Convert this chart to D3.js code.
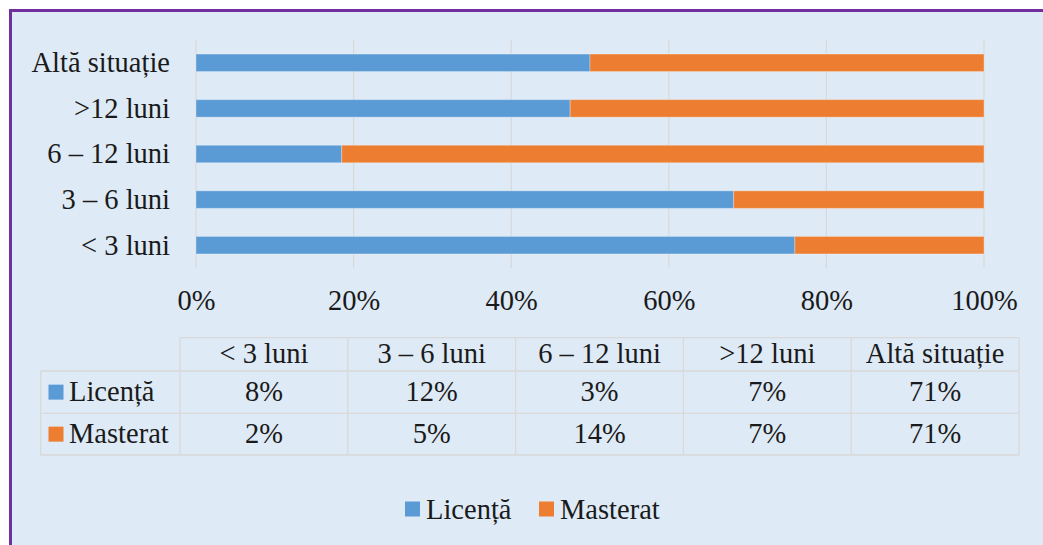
<!DOCTYPE html>
<html>
<head>
<meta charset="utf-8">
<script src="https://cdn.jsdelivr.net/npm/d3@7"></script>
<style>
  html, body { margin: 0; padding: 0; background: #ffffff; }
  svg { display: block; }
  text { font-family: "Liberation Serif", "Times New Roman", Times, serif; fill: #1a1a1a; }
</style>
</head>
<body>
<svg id="chart" width="1043" height="545"></svg>
<script>
// ---- data ----
const categories = ["< 3 luni", "3 – 6 luni", "6 – 12 luni", ">12 luni", "Altă situație"];
const seriesNames = ["Licență", "Masterat"];
const licenta  = [7.6, 11.6, 3.2, 6.6, 71];
const masterat = [2.4, 5.4, 14.1, 7.3, 71];
const tickValues = [0, 0.2, 0.4, 0.6, 0.8, 1];
const colors = ["#5B9BD5", "#ED7D31"];

const FS = "28.5px";
const FF = '"Liberation Serif", "Times New Roman", Times, serif';

const svg = d3.select("#chart");
const W = 1043, H = 545;

// background & frame
svg.append("rect").attr("x", 9).attr("y", 9).attr("width", W - 9).attr("height", H - 9).attr("fill", "#DEEAF6");
svg.append("line").attr("x1", 9).attr("x2", W).attr("y1", 10.5).attr("y2", 10.5).attr("stroke", "#7030A0").attr("stroke-width", 3);
svg.append("line").attr("x1", 10.5).attr("x2", 10.5).attr("y1", 9).attr("y2", H).attr("stroke", "#7030A0").attr("stroke-width", 3);

const plot = { left: 196, right: 984, top: 40, bottom: 268 };
const x = d3.scaleLinear().domain([0, 1]).range([plot.left, plot.right]);
const y = d3.scaleBand().domain(categories).range([plot.bottom, plot.top]).paddingInner(0.616).paddingOuter(0.308);

const rows = categories.map((c, i) => ({ cat: c, vals: [licenta[i], masterat[i]] }));
const stackData = rows.map(r => {
  const tot = d3.sum(r.vals);
  return { cat: r.cat, Licență: r.vals[0] / tot, Masterat: r.vals[1] / tot };
});
const stacked = d3.stack().keys(seriesNames)(stackData);

// gridlines
svg.append("g").selectAll("line").data(tickValues).join("line")
  .attr("x1", d => x(d)).attr("x2", d => x(d))
  .attr("y1", plot.top).attr("y2", plot.bottom)
  .attr("stroke", "#D9D9D9").attr("stroke-width", 1.2);

// bars
svg.append("g").selectAll("g").data(stacked).join("g")
  .attr("fill", (d, i) => colors[i])
  .selectAll("rect").data(d => d).join("rect")
  .attr("x", d => x(d[0]))
  .attr("width", d => x(d[1]) - x(d[0]))
  .attr("y", d => y(d.data.cat))
  .attr("height", y.bandwidth())
  .attr("stroke", "rgba(255,255,255,0.3)").attr("stroke-width", 1);

// category axis labels
const yAxis = d3.axisLeft(y).tickSize(0).tickPadding(26);
const gy = svg.append("g").attr("transform", `translate(${plot.left},0)`).call(yAxis);
gy.select(".domain").remove();
gy.selectAll("text").style("font-size", FS).style("font-family", FF).attr("fill", "#1a1a1a").attr("dy", "0.33em");

// x axis labels
const xAxis = d3.axisBottom(x).tickValues(tickValues).tickFormat(d3.format(".0%")).tickSize(0).tickPadding(0);
const gx = svg.append("g").attr("transform", `translate(0,${plot.bottom})`).call(xAxis);
gx.select(".domain").remove();
gx.selectAll("text").style("font-size", FS).style("font-family", FF).attr("fill", "#1a1a1a").attr("y", 42).attr("dy", 0);

// data table
const tbl = { x0: 40.7, colStart: 180, colW: 167.8, rowY: [337.7, 371, 413.3, 455] };
const colX = d3.range(categories.length + 1).map(i => tbl.colStart + i * tbl.colW);
const lineColor = "#D9D9D9";
const tg = svg.append("g");
tg.append("line").attr("x1", colX[0]).attr("x2", colX[colX.length - 1]).attr("y1", tbl.rowY[0]).attr("y2", tbl.rowY[0]).attr("stroke", lineColor).attr("stroke-width", 1.3);
tbl.rowY.slice(1).forEach(yy => {
  tg.append("line").attr("x1", tbl.x0).attr("x2", colX[colX.length - 1]).attr("y1", yy).attr("y2", yy).attr("stroke", lineColor).attr("stroke-width", 1.3);
});
colX.forEach(xx => {
  tg.append("line").attr("x1", xx).attr("x2", xx).attr("y1", tbl.rowY[0]).attr("y2", tbl.rowY[3]).attr("stroke", lineColor).attr("stroke-width", 1.3);
});
tg.append("line").attr("x1", tbl.x0).attr("x2", tbl.x0).attr("y1", tbl.rowY[1]).attr("y2", tbl.rowY[3]).attr("stroke", lineColor).attr("stroke-width", 1.3);

tg.selectAll("text.hdr").data(categories).join("text").attr("class", "hdr")
  .attr("x", (d, i) => (colX[i] + colX[i + 1]) / 2)
  .attr("y", (tbl.rowY[0] + tbl.rowY[1]) / 2 + 9)
  .attr("text-anchor", "middle").style("font-size", FS).text(d => d);

const fmt = d3.format(".0%");
[licenta, masterat].forEach((arr, s) => {
  const cy = (tbl.rowY[s + 1] + tbl.rowY[s + 2]) / 2;
  tg.selectAll("text.v" + s).data(arr).join("text").attr("class", "v" + s)
    .attr("x", (d, i) => (colX[i] + colX[i + 1]) / 2)
    .attr("y", cy + 9)
    .attr("text-anchor", "middle").style("font-size", FS).text(d => fmt(d / 100));
  tg.append("rect").attr("x", 48.5).attr("y", cy - 7.5).attr("width", 15).attr("height", 15).attr("fill", colors[s]);
  tg.append("text").attr("x", 69).attr("y", cy + 9).style("font-size", FS).text(seriesNames[s]);
});

// bottom legend
const lg = svg.append("g");
const legendItems = [{ name: seriesNames[0], x: 405 }, { name: seriesNames[1], x: 539 }];
legendItems.forEach((it, i) => {
  lg.append("rect").attr("x", it.x).attr("y", 501.5).attr("width", 15).attr("height", 15).attr("fill", colors[i]);
  lg.append("text").attr("x", it.x + 21).attr("y", 518.5).style("font-size", FS).text(it.name);
});
</script>
</body>
</html>
